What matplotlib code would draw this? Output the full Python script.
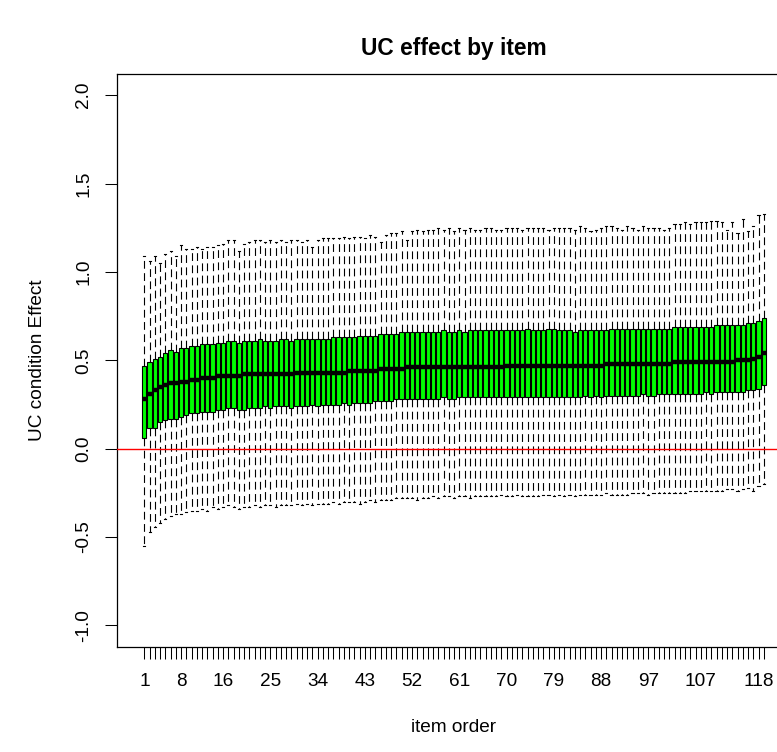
import matplotlib
matplotlib.use("Agg")
import matplotlib.pyplot as plt

plt.rcParams['font.family'] = ['Liberation Sans', 'DejaVu Sans']

# ---- data ----
median = [0.28, 0.31, 0.33, 0.35, 0.36, 0.37, 0.37, 0.38, 0.38, 0.39,
          0.39, 0.40, 0.40, 0.40, 0.41, 0.41, 0.41, 0.41, 0.41, 0.42,
          0.42, 0.42, 0.42, 0.42, 0.42, 0.42, 0.42, 0.42, 0.42, 0.43,
          0.43, 0.43, 0.43, 0.43, 0.43, 0.43, 0.43, 0.43, 0.43, 0.44,
          0.44, 0.44, 0.44, 0.44, 0.44, 0.45, 0.45, 0.45, 0.45, 0.45,
          0.46, 0.46, 0.46, 0.46, 0.46, 0.46, 0.46, 0.46, 0.46, 0.46,
          0.46, 0.46, 0.46, 0.46, 0.46, 0.46, 0.46, 0.46, 0.46, 0.47,
          0.47, 0.47, 0.47, 0.47, 0.47, 0.47, 0.47, 0.47, 0.47, 0.47,
          0.47, 0.47, 0.47, 0.47, 0.47, 0.47, 0.47, 0.47, 0.48, 0.48,
          0.48, 0.48, 0.48, 0.48, 0.48, 0.48, 0.48, 0.48, 0.48, 0.48,
          0.48, 0.49, 0.49, 0.49, 0.49, 0.49, 0.49, 0.49, 0.49, 0.49,
          0.49, 0.49, 0.49, 0.50, 0.50, 0.50, 0.51, 0.52, 0.54]

q1 = [0.06, 0.12, 0.12, 0.15, 0.16, 0.17, 0.17, 0.18, 0.19, 0.20,
      0.20, 0.21, 0.21, 0.21, 0.22, 0.22, 0.23, 0.23, 0.22, 0.22,
      0.23, 0.23, 0.23, 0.24, 0.23, 0.24, 0.24, 0.24, 0.23, 0.24,
      0.24, 0.24, 0.25, 0.24, 0.25, 0.25, 0.25, 0.25, 0.26, 0.25,
      0.26, 0.26, 0.26, 0.26, 0.27, 0.27, 0.27, 0.27, 0.28, 0.28,
      0.28, 0.28, 0.28, 0.28, 0.28, 0.28, 0.28, 0.29, 0.28, 0.28,
      0.29, 0.29, 0.29, 0.29, 0.29, 0.29, 0.29, 0.29, 0.29, 0.29,
      0.29, 0.29, 0.29, 0.29, 0.29, 0.29, 0.29, 0.29, 0.29, 0.29,
      0.29, 0.29, 0.29, 0.29, 0.30, 0.29, 0.30, 0.29, 0.30, 0.30,
      0.30, 0.30, 0.30, 0.30, 0.30, 0.31, 0.30, 0.30, 0.31, 0.31,
      0.31, 0.31, 0.31, 0.31, 0.31, 0.31, 0.31, 0.32, 0.31, 0.32,
      0.32, 0.32, 0.32, 0.32, 0.32, 0.33, 0.33, 0.34, 0.36]

q3 = [0.47, 0.49, 0.51, 0.52, 0.54, 0.56, 0.55, 0.57, 0.57, 0.58,
      0.58, 0.59, 0.59, 0.59, 0.60, 0.60, 0.61, 0.61, 0.60, 0.61,
      0.61, 0.61, 0.62, 0.61, 0.61, 0.61, 0.62, 0.62, 0.61, 0.62,
      0.62, 0.62, 0.62, 0.62, 0.62, 0.62, 0.63, 0.63, 0.63, 0.63,
      0.63, 0.64, 0.64, 0.64, 0.64, 0.65, 0.65, 0.65, 0.65, 0.66,
      0.66, 0.66, 0.66, 0.66, 0.66, 0.66, 0.66, 0.67, 0.66, 0.66,
      0.67, 0.66, 0.67, 0.67, 0.67, 0.67, 0.67, 0.67, 0.67, 0.67,
      0.67, 0.67, 0.67, 0.68, 0.67, 0.67, 0.67, 0.68, 0.68, 0.67,
      0.67, 0.67, 0.66, 0.67, 0.67, 0.67, 0.67, 0.67, 0.67, 0.68,
      0.68, 0.68, 0.68, 0.68, 0.68, 0.68, 0.68, 0.68, 0.68, 0.68,
      0.68, 0.69, 0.69, 0.69, 0.69, 0.69, 0.69, 0.69, 0.69, 0.70,
      0.70, 0.70, 0.70, 0.70, 0.70, 0.71, 0.71, 0.72, 0.74]

whisk_hi = [1.09, 1.06, 1.09, 1.05, 1.10, 1.12, 1.09, 1.15, 1.13, 1.13,
            1.14, 1.13, 1.14, 1.14, 1.15, 1.16, 1.18, 1.18, 1.12, 1.16,
            1.17, 1.18, 1.18, 1.17, 1.18, 1.17, 1.18, 1.17, 1.18, 1.18,
            1.17, 1.18, 1.14, 1.18, 1.19, 1.19, 1.19, 1.19, 1.20, 1.19,
            1.20, 1.20, 1.19, 1.21, 1.20, 1.17, 1.21, 1.22, 1.22, 1.23,
            1.18, 1.23, 1.24, 1.23, 1.24, 1.24, 1.25, 1.24, 1.25, 1.23,
            1.25, 1.24, 1.25, 1.24, 1.24, 1.25, 1.25, 1.24, 1.24, 1.25,
            1.25, 1.25, 1.24, 1.25, 1.25, 1.25, 1.25, 1.24, 1.25, 1.25,
            1.25, 1.25, 1.24, 1.26, 1.25, 1.23, 1.24, 1.25, 1.26, 1.26,
            1.25, 1.24, 1.26, 1.25, 1.24, 1.26, 1.25, 1.25, 1.25, 1.24,
            1.25, 1.27, 1.27, 1.28, 1.27, 1.28, 1.28, 1.28, 1.29, 1.29,
            1.28, 1.24, 1.28, 1.22, 1.30, 1.23, 1.26, 1.32, 1.33]

whisk_lo = [-0.55, -0.47, -0.44, -0.42, -0.40, -0.38, -0.37, -0.37, -0.36, -0.35,
            -0.35, -0.34, -0.35, -0.33, -0.34, -0.33, -0.32, -0.33, -0.34, -0.33,
            -0.33, -0.32, -0.33, -0.32, -0.32, -0.33, -0.32, -0.32, -0.32, -0.31,
            -0.32, -0.31, -0.32, -0.31, -0.31, -0.31, -0.30, -0.31, -0.30, -0.30,
            -0.30, -0.31, -0.30, -0.29, -0.30, -0.29, -0.29, -0.29, -0.28, -0.28,
            -0.28, -0.28, -0.29, -0.28, -0.28, -0.27, -0.28, -0.27, -0.27, -0.28,
            -0.27, -0.27, -0.28, -0.27, -0.27, -0.27, -0.27, -0.27, -0.26, -0.27,
            -0.27, -0.26, -0.27, -0.27, -0.27, -0.27, -0.26, -0.26, -0.27, -0.26,
            -0.27, -0.26, -0.27, -0.26, -0.26, -0.26, -0.26, -0.26, -0.25, -0.26,
            -0.26, -0.26, -0.26, -0.25, -0.25, -0.25, -0.26, -0.25, -0.25, -0.25,
            -0.25, -0.25, -0.25, -0.25, -0.24, -0.24, -0.24, -0.24, -0.24, -0.24,
            -0.24, -0.23, -0.23, -0.24, -0.23, -0.22, -0.24, -0.21, -0.20]

x_tick_labels = ["1", "8", "16", "25", "34", "43", "52", "61", "70", "79",
                 "88", "97", "107", "118"]
y_ticks = [-1.0, -0.5, 0.0, 0.5, 1.0, 1.5, 2.0]
y_tick_labels = ["-1.0", "-0.5", "0.0", "0.5", "1.0", "1.5", "2.0"]

title = "UC effect by item"
xlabel = "item order"
ylabel = "UC condition Effect"

# ---- figure ----
W, H = 777, 752
fig = plt.figure(figsize=(W / 100, H / 100), dpi=100)
L, R, T, B = 116.7, 791.4, 74.0, 646.7
ax = fig.add_axes([L / W, (H - B) / H, (R - L) / W, (B - T) / H])

n = len(median)
positions = list(range(1, n + 1))
stats = []
for i in range(n):
    stats.append(dict(med=median[i], q1=q1[i], q3=q3[i],
                      whislo=whisk_lo[i], whishi=whisk_hi[i], fliers=[]))

ax.bxp(stats, positions=positions, widths=0.8, capwidths=0.4,
       patch_artist=True, showfliers=False,
       boxprops=dict(facecolor='#00FF00', edgecolor='black', linewidth=0.8),
       medianprops=dict(color='black', linewidth=3.2, solid_capstyle='butt'),
       whiskerprops=dict(color='black', linewidth=0.8, linestyle=(0, (7, 4))),
       capprops=dict(color='black', linewidth=0.8))

ax.axhline(0, color='#FF0000', linewidth=1.0, zorder=5)

ext = 0.04 * n
ax.set_xlim(0.5 - ext, n + 0.5 + ext)
ax.set_ylim(-1.12, 2.12)

lab_map = {int(s): s for s in x_tick_labels}
ax.set_xticks(positions)
ax.set_xticklabels([lab_map.get(p, "") for p in positions])
ax.set_yticks(y_ticks)
ax.set_yticklabels(y_tick_labels, rotation=90, va='center')

fs = 13.7
ax.tick_params(axis='both', length=8.6, width=0.75, labelsize=fs, color='black')
ax.tick_params(axis='x', pad=10)
ax.tick_params(axis='y', pad=9)
for sp in ax.spines.values():
    sp.set_linewidth(0.9)

cx = (L + R) / 2 / W
fig.text(cx, 1 - 48 / H, title, ha='center', va='center',
         fontsize=16.4, fontweight='bold')
fig.text(cx, 1 - 728 / H, xlabel, ha='center', va='center', fontsize=fs)
fig.text(38 / W, 1 - (T + B) / 2 / H, ylabel, ha='center', va='center',
         rotation=90, fontsize=fs)

fig.savefig("out.png", dpi=100)
